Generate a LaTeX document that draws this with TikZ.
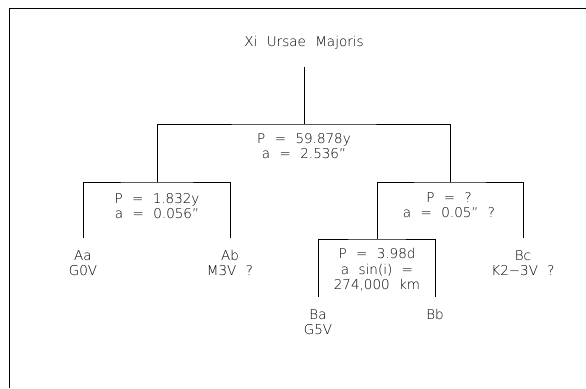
\documentclass[tikz,border=0pt]{standalone}
\usepackage{fontspec}
\setmainfont[WordSpace=2.2]{DejaVu Sans ExtraLight}
\usetikzlibrary{positioning}

\begin{document}
\begin{tikzpicture}[
    x=1pt, y=-1pt,
    comp/.style={
        font=\fontsize{13.5}{15.5}\selectfont,
        align=center,
        inner sep=0pt
    },
    orbit/.style={
        font=\fontsize{13.5}{15.5}\selectfont,
        align=center,
        inner sep=0pt
    },
    link/.style={line width=0.6pt}
]

\useasboundingbox (0,0) rectangle (586,388);

% FRAME
\draw[link] (586,8) -- (9,8) -- (9,388);

% WHOLE SYSTEM
\node[comp] (title) at (304,43) {Xi Ursae Majoris};

\coordinate (rootend) at (304,67);
\coordinate (AB) at (304,124);
\coordinate (Asplit) at (157,182);
\coordinate (Bsplit) at (450,182);

\draw[link] (rootend) -- (AB);
\draw[link] (Asplit) |- (AB) -| (Bsplit);

\node[orbit] (orbitAB) at (304,146)
{P = 59.878y\\a = 2.536"};

% PAIR A
\coordinate (Aaend) at (83,238);
\coordinate (Abend) at (230,238);

\draw[link] (Aaend) |- (Asplit) -| (Abend);

\node[orbit] (orbitA) at (157,206)
{P = 1.832y\\a = 0.056"};

\node[comp, below=12pt of Aaend] (Aa) {Aa\\G0V};
\node[comp, below=12pt of Abend] (Ab) {Ab\\M3V ?};

% TRIPLE B
\coordinate (Bbaend) at (377,239);
\coordinate (Bcend) at (523,238);

\draw[link] (Bbaend) |- (Bsplit) -| (Bcend);

\node[orbit] (orbitB) at (449,205)
{P = ?\\a = 0.05" ?};

\node[comp, below=12pt of Bcend] (Bc) {Bc\\K2−3V ?};

% INNER PAIR Ba--Bb
\coordinate (Baend) at (318,297);
\coordinate (Bbend) at (435,297);

\draw[link] (Baend) |- (Bbaend) -| (Bbend);

\node[orbit] (orbitBab) at (377,270)
{P = 3.98d\\a sin(i) =\\274,000 km};

\node[comp, below=12pt of Baend] (Ba) {Ba\\G5V};
\node[comp, below=12pt of Bbend] (Bb) {Bb};

\end{tikzpicture}
\end{document}
